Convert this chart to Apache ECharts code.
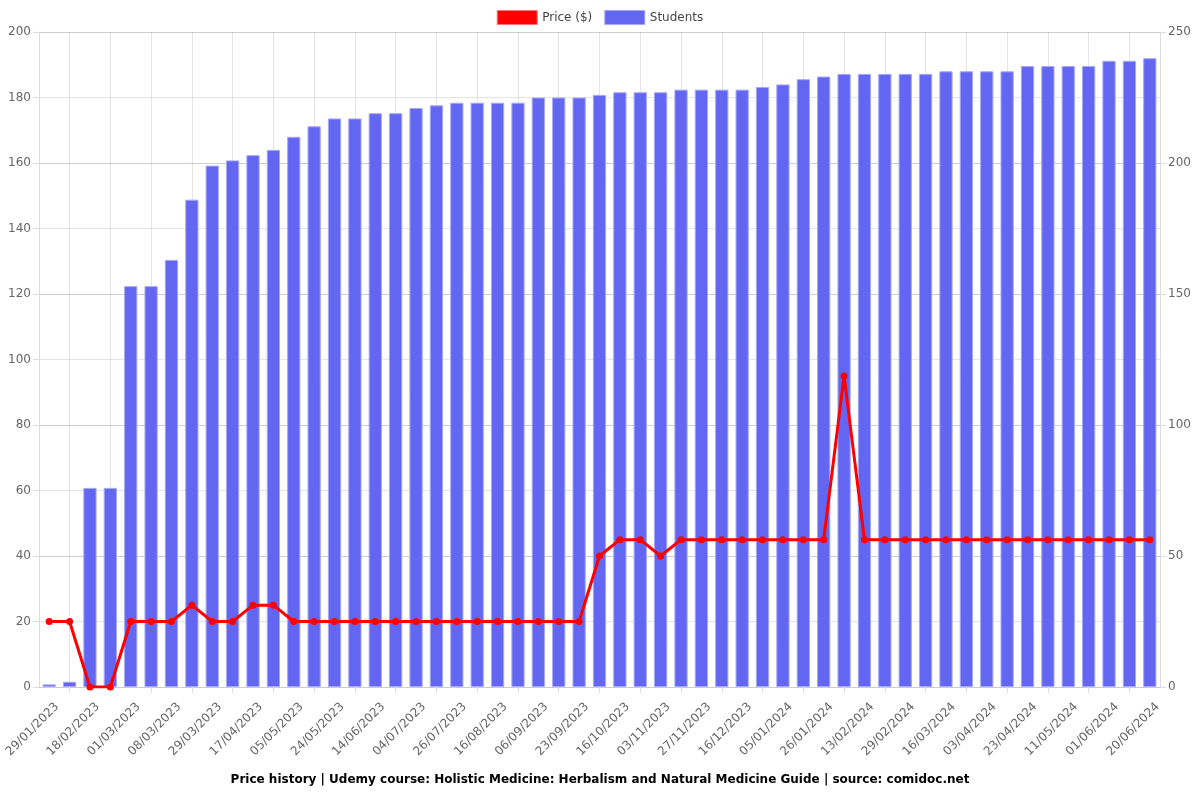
<!DOCTYPE html>
<html>
<head>
<meta charset="utf-8">
<script src="https://cdn.jsdelivr.net/npm/echarts@6/dist/echarts.min.js"></script>
<style>html,body{margin:0;padding:0;background:#fff}#chart{width:1200px;height:800px}</style>
</head>
<body>
<div id="chart"></div>
<script>
var categories = [
  '29/01/2023','08/02/2023','18/02/2023','24/02/2023','01/03/2023','04/03/2023','08/03/2023','18/03/2023',
  '29/03/2023','08/04/2023','17/04/2023','26/04/2023','05/05/2023','15/05/2023','24/05/2023','04/06/2023',
  '14/06/2023','24/06/2023','04/07/2023','15/07/2023','26/07/2023','05/08/2023','16/08/2023','27/08/2023',
  '06/09/2023','15/09/2023','23/09/2023','05/10/2023','16/10/2023','25/10/2023','03/11/2023','15/11/2023',
  '27/11/2023','06/12/2023','16/12/2023','26/12/2023','05/01/2024','15/01/2024','26/01/2024','04/02/2024',
  '13/02/2024','21/02/2024','29/02/2024','08/03/2024','16/03/2024','25/03/2024','03/04/2024','13/04/2024',
  '23/04/2024','02/05/2024','11/05/2024','22/05/2024','01/06/2024','10/06/2024','20/06/2024'
];
var price = [
  20,20,0,0,20,20,20,25,20,20,25,25,20,20,20,20,20,20,20,20,20,20,20,20,20,20,20,
  40,45,45,40,45,45,45,45,45,45,45,45,95,45,45,45,45,45,45,45,45,45,45,45,45,45,45,45
];
var students = [
  1,2,76,76,153,153,163,186,199,201,203,205,210,214,217,217,219,219,221,222,223,223,223,223,225,225,225,
  226,227,227,227,228,228,228,228,229,230,232,233,234,234,234,234,234,235,235,235,235,237,237,237,237,239,239,240
];
var leftTicks = {min: 0, max: 200, interval: 20};
var rightTicks = {min: 0, max: 250, interval: 50};
var titleText = 'Price history | Udemy course: Holistic Medicine: Herbalism and Natural Medicine Guide | source: comidoc.net';

var oddOnly = function (i) { return i % 2 === 1; };
var chart = echarts.init(document.getElementById('chart'));
chart.setOption({
  animation: false,
  title: {
    text: titleText, left: 'center', bottom: 9,
    textStyle: {fontSize: 12, fontWeight: 'bold', color: '#000', fontFamily: 'DejaVu Sans'}
  },
  legend: {
    top: 5, left: 'center', itemWidth: 40, itemHeight: 14, itemGap: 12,
    textStyle: {fontSize: 12, color: '#444', fontFamily: 'DejaVu Sans'},
    data: [
      {name: 'Price ($)', icon: 'rect', itemStyle: {color: '#ff0000', borderColor: 'rgba(255,120,120,1)', borderWidth: 1}},
      {name: 'Students', icon: 'rect', itemStyle: {color: '#6366f1', borderColor: '#a5a7f7', borderWidth: 1}}
    ]
  },
  grid: {left: 39, right: 40, top: 32, bottom: 113, containLabel: false, outerBoundsMode: 'none'},
  xAxis: {
    type: 'category', data: categories, boundaryGap: true,
    axisLine: {show: true, lineStyle: {color: '#cccccc'}},
    axisTick: {show: true, interval: oddOnly, alignWithLabel: true, length: 6, lineStyle: {color: '#dddddd'}},
    splitLine: {show: true, interval: oddOnly, alignWithLabel: true, lineStyle: {color: 'rgba(0,0,0,0.1)'}},
    axisLabel: {
      interval: 1, rotate: 45, fontSize: 12, color: '#666', fontFamily: 'DejaVu Sans',
      margin: 10, verticalAlign: 'top', padding: [5, 0, 0, 0]
    }
  },
  yAxis: [
    {
      type: 'value', min: leftTicks.min, max: leftTicks.max, interval: leftTicks.interval, position: 'left',
      axisLine: {show: true, lineStyle: {color: '#dddddd'}},
      axisTick: {show: true, length: 6, lineStyle: {color: '#dddddd'}},
      splitLine: {show: true, lineStyle: {color: 'rgba(0,0,0,0.1)'}},
      axisLabel: {fontSize: 12, color: '#666', fontFamily: 'DejaVu Sans'}
    },
    {
      type: 'value', min: rightTicks.min, max: rightTicks.max, interval: rightTicks.interval, position: 'right',
      axisLine: {show: true, lineStyle: {color: '#dddddd'}},
      axisTick: {show: true, length: 6, lineStyle: {color: '#dddddd'}},
      splitLine: {show: true, lineStyle: {color: 'rgba(0,0,0,0.1)'}},
      axisLabel: {fontSize: 12, color: '#666', fontFamily: 'DejaVu Sans'}
    }
  ],
  series: [
    {
      name: 'Price ($)', type: 'line', yAxisIndex: 0, data: price, z: 5,
      symbol: 'circle', symbolSize: 7,
      lineStyle: {color: '#ff0000', width: 3},
      itemStyle: {color: '#ff0000'}
    },
    {
      name: 'Students', type: 'bar', yAxisIndex: 1, data: students, barWidth: '65%', z: 2,
      itemStyle: {color: '#6366f1', borderColor: '#a5a7f7', borderWidth: 1}
    }
  ]
});
</script>
</body>
</html>
